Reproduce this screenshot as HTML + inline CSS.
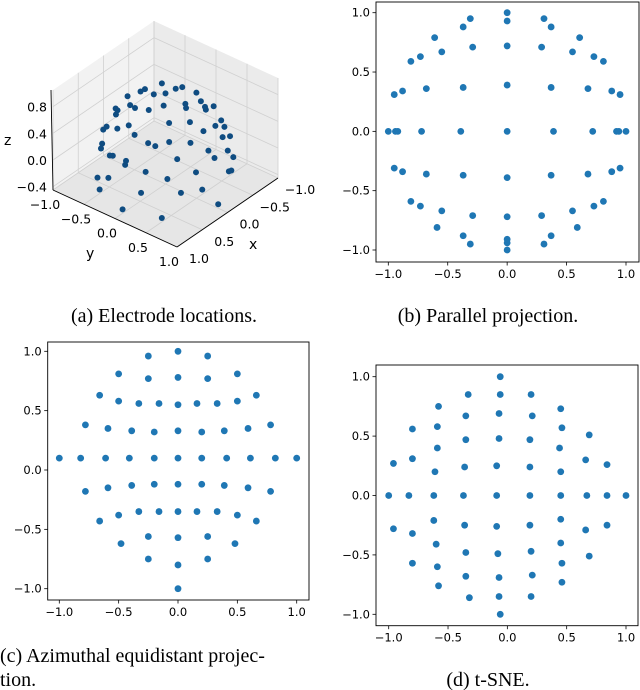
<!DOCTYPE html>
<html><head><meta charset="utf-8">
<style>
html,body{margin:0;padding:0;background:#fff;}
svg{display:block;}
.tk{font-family:"DejaVu Sans","Liberation Sans",sans-serif;font-size:11.5px;fill:#000;}
.cap{font-family:"Liberation Serif",serif;font-size:20px;fill:#000;}
</style></head>
<body>
<svg id="fig" width="640" height="690" viewBox="0 0 640 690" xmlns="http://www.w3.org/2000/svg">
<g id="pa"></g>
<g id="pb"></g>
<g id="pc"></g>
<g id="pd"></g>
<text class="cap" x="164" y="322" text-anchor="middle">(a) Electrode locations.</text>
<text class="cap" x="488" y="322" text-anchor="middle">(b) Parallel projection.</text>
<text class="cap" x="0" y="662">(c) Azimuthal equidistant projec-</text>
<text class="cap" x="0" y="686">tion.</text>
<text class="cap" x="488" y="686" text-anchor="middle">(d) t-SNE.</text>
</svg>
<script>
const NS="http://www.w3.org/2000/svg";
const ticks=[-1,-0.5,0,0.5,1];
const tickLabels=["\u22121.0","\u22120.5","0.0","0.5","1.0"];
const parX=[0,0,0.31,-0.31,-0.37,0.37,-0.61,0.61,-0.55,0.55,-0.29,0.29,0,-0.81,0.81,-0.73,0.73,-0.95,0.95,-0.88,0.88,-0.68,0.68,-0.37,0.37,0,
 -1,-0.94,-0.92,-0.72,-0.39,0,0.39,0.72,0.92,0.94,1,
 0,0,0,-0.31,0.31,-0.37,0.37,-0.59,0.59,-0.55,0.55,-0.29,0.29,0,-0.81,0.81,-0.73,0.73,-0.95,0.95,-0.88,0.88,-0.68,0.68,-0.37,0.37,0];
const parY=[1,0.93,0.95,0.95,0.88,0.88,0.79,0.79,0.67,0.67,0.71,0.71,0.72,0.59,0.59,0.63,0.63,0.31,0.31,0.34,0.34,0.36,0.36,0.37,0.37,0.39,
 0,0,0,0,0,0,0,0,0,0,0,
 -1,-0.94,-0.91,-0.95,-0.95,-0.88,-0.88,-0.81,-0.81,-0.67,-0.67,-0.71,-0.71,-0.72,-0.59,-0.59,-0.63,-0.63,-0.31,-0.31,-0.34,-0.34,-0.36,-0.36,-0.37,-0.37,-0.39];
const aziX=[0,-0.25,0.25,-0.5,0.5,-0.25,0.25,0,-0.66,0.66,-0.5,0.5,-0.33,0.33,-0.16,0.16,0,
 -0.78,0.78,-0.59,0.59,-0.39,0.39,-0.2,0.2,0,
 -1,-0.82,-0.61,-0.41,-0.2,0,0.2,0.41,0.61,0.82,1,
 -0.78,0.78,-0.59,0.59,-0.39,0.39,-0.2,0.2,0,
 -0.66,0.66,-0.5,0.5,-0.33,0.33,-0.16,0.16,0,
 -0.48,0.48,-0.25,0.25,0,-0.25,0.25,0,0];
const aziY=[1,0.96,0.96,0.81,0.81,0.77,0.77,0.78,0.63,0.63,0.58,0.58,0.56,0.56,0.56,0.56,0.55,
 0.38,0.38,0.35,0.35,0.33,0.33,0.32,0.32,0.33,
 0.1,0.1,0.1,0.1,0.1,0.1,0.1,0.1,0.1,0.1,0.1,
 -0.18,-0.18,-0.15,-0.15,-0.13,-0.13,-0.12,-0.12,-0.12,
 -0.43,-0.43,-0.38,-0.38,-0.35,-0.35,-0.35,-0.35,-0.35,
 -0.62,-0.62,-0.56,-0.56,-0.57,-0.75,-0.75,-0.8,-1];
const tsX=[-0.06,-0.33,-0.06,0.2,-0.58,0.45,-0.35,-0.07,0.21,-0.8,-0.59,0.46,0.69,-0.35,-0.07,0.19,-0.59,0.44,-0.96,-0.8,0.66,0.84,-0.61,-0.36,-0.09,0.19,0.45,
 -1,-0.83,-0.62,-0.37,-0.09,0.19,0.45,0.67,0.84,1,
 -0.96,-0.8,-0.62,-0.36,-0.09,0.19,0.45,0.66,0.84,
 -0.6,0.45,-0.8,-0.59,-0.35,-0.08,0.2,0.46,0.69,
 -0.58,-0.35,-0.07,0.21,0.46,-0.32,-0.07,0.2,-0.06];
const tsY=[1,0.85,0.85,0.85,0.75,0.73,0.67,0.69,0.67,0.56,0.58,0.57,0.51,0.47,0.48,0.47,0.4,0.4,0.27,0.31,0.3,0.26,0.2,0.24,0.25,0.24,0.2,
 0,0,0,0,0,0,0,0,0,0,
 -0.28,-0.32,-0.21,-0.25,-0.26,-0.25,-0.2,-0.29,-0.25,
 -0.41,-0.4,-0.57,-0.6,-0.48,-0.49,-0.47,-0.57,-0.51,
 -0.76,-0.68,-0.69,-0.67,-0.73,-0.86,-0.85,-0.85,-1];
const zTicks=[-0.4,0,0.4,0.8];
const zTickLabels=["\u22120.4","0.0","0.4","0.8"];

function mk(tag,attrs,parent){const e=document.createElementNS(NS,tag);for(const k in attrs)e.setAttribute(k,attrs[k]);parent.appendChild(e);return e;}

function panel(gid,fr,m,xs,ys,pfx){
  const g=document.getElementById(gid);
  const sx=v=>m.x0+(v+1)/2*(m.x1-m.x0);
  const sy=v=>m.y0+(1-v)/2*(m.y1-m.y0);
  const f=mk('rect',{x:fr.l,y:fr.t,width:fr.r-fr.l,height:fr.b-fr.t,fill:'#fff',stroke:'#000','stroke-width':0.9},g);
  
  
  ticks.forEach((t,i)=>{
    const x=sx(t);
    const l=mk('line',{x1:x,y1:fr.b,x2:x,y2:fr.b+3.5,stroke:'#000','stroke-width':0.8},g);
    
    
    const tx=mk('text',{x:x,y:fr.b+16,'text-anchor':'middle',class:'tk'},g);
    tx.textContent=tickLabels[i];
    
    
    const y=sy(t);
    const l2=mk('line',{x1:fr.l-3.5,y1:y,x2:fr.l,y2:y,stroke:'#000','stroke-width':0.8},g);
    
    
    const ty=mk('text',{x:fr.l-6,y:y+4,'text-anchor':'end',class:'tk'},g);
    ty.textContent=tickLabels[i];
    
    
  });
  for(let i=0;i<xs.length;i++){
    const c=mk('circle',{cx:sx(xs[i]),cy:sy(ys[i]),r:3.4,fill:'#1f77b4'},g);
    
    
  }
}
panel('pb',{l:376,r:639,t:2,b:262},{x0:388.3,x1:626,y0:12.7,y1:250},parX,parY,'panel-b');
panel('pc',{l:47.7,r:309,t:342,b:600},{x0:59.3,x1:296.7,y0:351.3,y1:588.7},aziX,aziY,'panel-c');
panel('pd',{l:376,r:638,t:365,b:625.7},{x0:388.7,x1:626,y0:376.7,y1:614.3},tsX,tsY,'panel-d');

// 3D panel
(function(){
  const g=document.getElementById('pa');
  const B=[154,121],L=[53,190],R=[278,178],F=[177,247];
  const zmin=-0.45,zmax=1.05,H=100;
  function P(x,y,z){const u=(x+1)/2,v=(y+1)/2;const h=(z-zmin)/(zmax-zmin)*H;
    return [B[0]+u*(L[0]-B[0])+v*(R[0]-B[0]), B[1]+u*(L[1]-B[1])+v*(R[1]-B[1])-h];}
  const pts=a=>a.map(p=>p.join(',')).join(' ');
  const up=p=>[p[0],p[1]-H];
  const p1=mk('polygon',{points:pts([B,L,up(L),up(B)]),fill:'#f2f2f2',stroke:'none'},g);
  
  const p2=mk('polygon',{points:pts([B,R,up(R),up(B)]),fill:'#ebebeb',stroke:'none'},g);
  
  const p3=mk('polygon',{points:pts([B,L,F,R]),fill:'#e6e6e6',stroke:'none'},g);
  
  const gs={stroke:'#d0d0d0','stroke-width':0.8};
  ticks.forEach(t=>{
    let a=P(t,-1,zmin),b=P(t,1,zmin),c=P(t,-1,zmax);
    let l=mk('line',Object.assign({x1:a[0],y1:a[1],x2:b[0],y2:b[1]},gs),g);
    l=mk('line',Object.assign({x1:a[0],y1:a[1],x2:c[0],y2:c[1]},gs),g);
    a=P(-1,t,zmin);b=P(1,t,zmin);c=P(-1,t,zmax);
    l=mk('line',Object.assign({x1:a[0],y1:a[1],x2:b[0],y2:b[1]},gs),g);
    l=mk('line',Object.assign({x1:a[0],y1:a[1],x2:c[0],y2:c[1]},gs),g);
  });
  zTicks.forEach((t,i)=>{
    const a=P(1,-1,t),b=P(-1,-1,t),c=P(-1,1,t);
    let l=mk('line',Object.assign({x1:a[0],y1:a[1],x2:b[0],y2:b[1]},gs),g);
    l=mk('line',Object.assign({x1:b[0],y1:b[1],x2:c[0],y2:c[1]},gs),g);
    const tx=mk('text',{x:a[0]-6,y:a[1]+5,'text-anchor':'end',class:'tk',style:'font-size:12.5px'},g);
    tx.textContent=zTickLabels[i];
    
  });
  const ax={stroke:'#000','stroke-width':0.9};
  let e=mk('line',Object.assign({x1:L[0],y1:L[1],x2:F[0],y2:F[1]},ax),g);
  e=mk('line',Object.assign({x1:F[0],y1:F[1],x2:R[0],y2:R[1]},ax),g);
  e=mk('line',Object.assign({x1:L[0],y1:L[1],x2:L[0]-2,y2:L[1]-H},ax),g);
  ticks.forEach((t,i)=>{
    const a=P(1,t,zmin);
    const tx=mk('text',{x:a[0]-8,y:a[1]+19,'text-anchor':'middle',class:'tk',style:'font-size:12.5px'},g);
    tx.textContent=tickLabels[i];
    
    const b=P(t,1,zmin);
    const t2=mk('text',{x:b[0]+22,y:b[1]+16,'text-anchor':'middle',class:'tk',style:'font-size:12.5px'},g);
    t2.textContent=tickLabels[i];
    
  });
  let lb=mk('text',{x:4,y:145,class:'tk',style:'font-size:14px'},g);lb.textContent='z';
  
  lb=mk('text',{x:86,y:258,class:'tk',style:'font-size:14px'},g);lb.textContent='y';
  
  lb=mk('text',{x:249,y:249,class:'tk',style:'font-size:14px'},g);lb.textContent='x';
  
  for(let i=0;i<parX.length;i++){
    const r2=parX[i]*parX[i]+parY[i]*parY[i];
    const z=r2<1?Math.sqrt(1-r2):-0.3;
    const p=P(parX[i]*0.85,parY[i]*0.85,z);
    const c=mk('circle',{cx:p[0],cy:p[1]+6,r:3,fill:'#0f4c81'},g);
    
    
  }
})();
</script>
</body></html>
